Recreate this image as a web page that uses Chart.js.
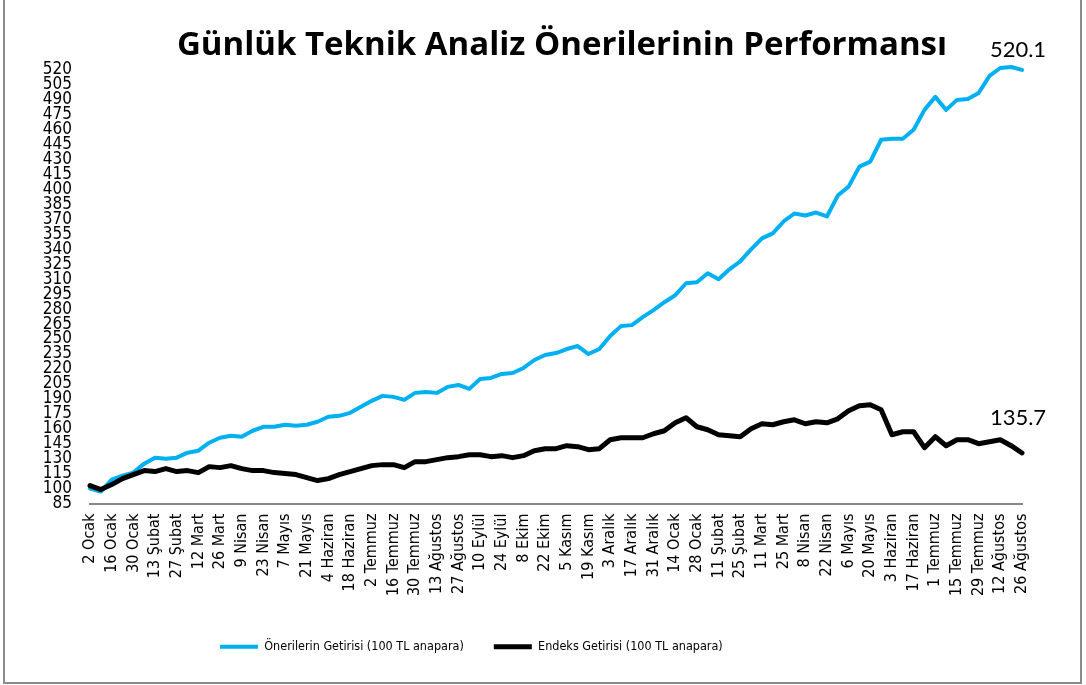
<!DOCTYPE html>
<html>
<head>
<meta charset="utf-8">
<script src="https://cdn.jsdelivr.net/npm/chart.js@4.4.0/dist/chart.umd.min.js"></script>
<style>
  html, body { margin: 0; padding: 0; background: #fff; }
  #wrap { width: 1086px; height: 685px; }
</style>
</head>
<body>
<div id="wrap"><canvas id="perfChart" width="1086" height="685"></canvas></div>
<script>
// weekly closes (Mondays), 2 Ocak 2012 - 26 Agustos 2013
var tickLabels = ['2 Ocak', '16 Ocak', '30 Ocak', '13 Şubat', '27 Şubat', '12 Mart', '26 Mart', '9 Nisan',
    '23 Nisan', '7 Mayıs', '21 Mayıs', '4 Haziran', '18 Haziran', '2 Temmuz', '16 Temmuz', '30 Temmuz',
    '13 Ağustos', '27 Ağustos', '10 Eylül', '24 Eylül', '8 Ekim', '22 Ekim', '5 Kasım', '19 Kasım',
    '3 Aralık', '17 Aralık', '31 Aralık', '14 Ocak', '28 Ocak', '11 Şubat', '25 Şubat', '11 Mart',
    '25 Mart', '8 Nisan', '22 Nisan', '6 Mayıs', '20 Mayıs', '3 Haziran', '17 Haziran', '1 Temmuz',
    '15 Temmuz', '29 Temmuz', '12 Ağustos', '26 Ağustos'];

var oneriler = [100, 97, 109, 113, 116, 125, 131, 130, 131, 136,
    138, 146, 151, 153, 152, 158, 162, 162, 164, 163,
    164, 167, 172, 173, 176, 182, 188, 193, 192, 189,
    196, 197, 196, 202, 204, 200, 210, 211, 215, 216,
    221, 229, 234, 236, 240, 243, 235, 240, 253, 263,
    264, 272, 279, 287, 294, 306, 307, 316, 310, 320,
    328, 340, 351, 356, 368, 376, 374, 377, 373, 394,
    403, 423, 428, 450, 451, 451, 460, 480, 493, 480,
    490, 491, 497, 514, 522, 523, 520.1];

var endeks = [103, 99, 104, 110, 114, 118, 117, 120, 117, 118,
    116, 122, 121, 123, 120, 118, 118, 116, 115, 114,
    111, 108, 110, 114, 117, 120, 123, 124, 124, 121,
    127, 127, 129, 131, 132, 134, 134, 132, 133, 131,
    133, 138, 140, 140, 143, 142, 139, 140, 149, 151,
    151, 151, 155, 158, 166, 171, 162, 159, 154, 153,
    152, 160, 165, 164, 167, 169, 165, 167, 166, 170,
    178, 183, 184, 179, 154, 157, 157, 141, 152, 143,
    149, 149, 145, 147, 149, 143, 135.7];

var seriesNames = ['Önerilerin Getirisi (100 TL anapara)', 'Endeks Getirisi (100 TL anapara)'];
var chartTitle = 'Günlük Teknik Analiz Önerilerinin Performansı';

// one tick label every two weeks
var categories = oneriler.map(function (v, i) {
    return i % 2 === 0 ? tickLabels[i / 2] : '';
});

var narrowFont = "'Liberation Sans Narrow', 'DejaVu Sans Condensed', sans-serif";

// frame, title and the last-value labels
var extrasPlugin = {
    id: 'extras',
    afterLayout: function (chart) {
        chart.legend.left = 190;
    },
    beforeDraw: function (chart) {
        var c = chart.ctx;
        c.save();
        c.strokeStyle = '#8c8c8c';
        c.lineWidth = 2;
        c.strokeRect(4, -3, 1077, 686);
        c.restore();
    },
    afterDatasetsDraw: function (chart) {
        var c = chart.ctx;
        var offsets = [13, 28];
        c.save();
        c.fillStyle = '#000';
        c.font = '22px Lato';
        c.textAlign = 'center';
        c.textBaseline = 'alphabetic';
        chart.data.datasets.forEach(function (ds, i) {
            var pts = chart.getDatasetMeta(i).data;
            var last = pts[pts.length - 1];
            c.fillText(ds.data[ds.data.length - 1].toFixed(1), last.x - 4, last.y - offsets[i]);
        });
        c.font = "bold 33px 'Open Sans'";
        c.fillText(chartTitle, chart.width / 2 + 19, 55);
        c.restore();
    }
};

var canvasDrawer = document.getElementById('perfChart');

new Chart(canvasDrawer, {
    type: 'line',
    data: {
        labels: categories,
        datasets: [{
            label: seriesNames[0],
            data: oneriler,
            borderColor: '#00B0F0',
            backgroundColor: '#00B0F0',
            borderWidth: 4,
            borderCapStyle: 'round',
            borderJoinStyle: 'round',
            pointRadius: 0,
            tension: 0,
            order: 1,
            clip: false
        }, {
            label: seriesNames[1],
            data: endeks,
            borderColor: '#000000',
            backgroundColor: '#000000',
            borderWidth: 5,
            borderCapStyle: 'round',
            borderJoinStyle: 'round',
            pointRadius: 0,
            tension: 0,
            order: 0,
            clip: false
        }]
    },
    options: {
        responsive: false,
        animation: false,
        layout: { padding: { top: 70, left: 32, right: 64, bottom: 22 } },
        plugins: {
            title: { display: false },
            tooltip: { enabled: false },
            legend: {
                position: 'bottom',
                align: 'start',
                labels: {
                    usePointStyle: true,
                    pointStyle: 'line',
                    pointStyleWidth: 38,
                    boxHeight: 15,
                    padding: 30,
                    color: '#000',
                    font: { family: narrowFont, size: 12.5 },
                    sort: function (a, b) { return a.datasetIndex - b.datasetIndex; }
                }
            }
        },
        scales: {
            x: {
                grid: { display: false, drawTicks: false },
                border: { display: true, color: '#868686', width: 2 },
                ticks: {
                    autoSkip: false,
                    minRotation: 90,
                    maxRotation: 90,
                    padding: 10,
                    color: '#000',
                    font: { family: narrowFont, size: 16 }
                },
                afterFit: function (scale) { scale.height = 107; }
            },
            y: {
                min: 85,
                max: 520,
                grid: { display: false, drawTicks: false },
                border: { display: false },
                ticks: {
                    stepSize: 15,
                    autoSkip: false,
                    padding: 18,
                    color: '#000',
                    font: { family: narrowFont, size: 17 }
                },
                afterFit: function (scale) { scale.width = 58; }
            }
        }
    },
    plugins: [extrasPlugin]
});
</script>
</body>
</html>
